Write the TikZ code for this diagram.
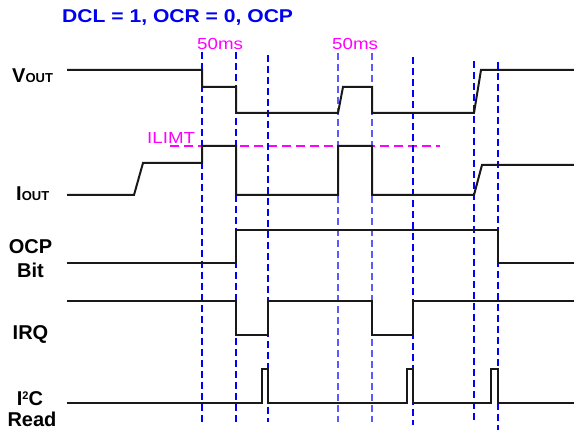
\documentclass[tikz,border=0pt]{standalone}
\usepackage{fontspec}
\setmainfont{Liberation Sans}
\definecolor{magtxt}{RGB}{255,0,255}
\definecolor{ttlblue}{RGB}{0,0,240}
\definecolor{lightblue}{RGB}{90,90,255}
\begin{document}
\begin{tikzpicture}[x=1pt,y=-1pt,
  sig/.style={black!90,line width=2pt,line join=miter},
  mark line/.style={blue,line width=1.2pt,dash pattern=on 7pt off 4pt},
  mark light/.style={lightblue,line width=1.8pt,dash pattern=on 7pt off 4pt},
  lbl/.style={font=\fontsize{20}{24}\selectfont\bfseries,inner sep=0pt},
  mtxt/.style={text=magtxt,font=\fontsize{16}{18}\selectfont,inner sep=0pt},
]
\useasboundingbox (0,0) rectangle (574,430);
% title
\node[anchor=base west,inner sep=0pt,text=ttlblue,font=\fontsize{18.5}{20}\selectfont\bfseries] (title) at (62,22.5) {\scalebox{1.14}[1]{DCL = 1, OCR = 0, OCP}};
% magenta labels
\node[mtxt,anchor=base west] (t1) at (197,50) {\scalebox{1.17}[1]{50ms}};
\node[mtxt,anchor=base west] (t2) at (332,50) {\scalebox{1.17}[1]{50ms}};
\node[mtxt,anchor=base west] (ilim) at (147,144) {\scalebox{1.17}[1]{ILIMT}};
\draw[draw=magtxt,line width=1.4pt,dash pattern=on 9pt off 5pt] (170,146) -- (440,146);
% dashed markers
\draw[mark line] (202,52) -- (202,422);
\draw[mark line] (236,52) -- (236,422);
\draw[mark line] (268,55) -- (268,422);
\draw[mark light] (338,53) -- (338,422);
\draw[mark light] (372,53) -- (372,422);
\draw[mark line] (413,57) -- (413,425);
\draw[mark line] (474,61) -- (474,422);
\draw[mark line] (498,62) -- (498,430);
% signal labels
\node[lbl,anchor=base west] (vout) at (12,83) {V\fontsize{13}{13}\selectfont OUT};
\node[lbl,anchor=base west] (iout) at (16,201) {I\fontsize{13}{13}\selectfont OUT};
\node[lbl,anchor=base] (ocp1) at (30.5,254) {OCP};
\node[lbl,anchor=base] (ocp2) at (30.5,278) {Bit};
\node[lbl,anchor=base] (irq) at (30.5,340) {IRQ};
\node[lbl,anchor=base] (i2c) at (30,406) {I\raisebox{6pt}{\fontsize{11}{11}\selectfont 2}C};
\node[lbl,anchor=base] (read) at (32,427) {Read};
% signals
\draw[sig] (67,70) -- (202,70) -- (202,87) -- (236,87) -- (236,113) -- (338,113) -- (343,87) -- (372,87) -- (372,113) -- (474,113) -- (481,70) -- (574,70);
\draw[sig] (67,195) -- (134,195) -- (143,163) -- (202,163) -- (202,146) -- (236,146) -- (236,195) -- (338,195) -- (338,146) -- (372,146) -- (372,195) -- (474,195) -- (482,165) -- (574,165);
\draw[sig] (67,263) -- (236,263) -- (236,230) -- (498,230) -- (498,263) -- (574,263);
\draw[sig] (67,301) -- (236,301) -- (236,335) -- (268,335) -- (268,301) -- (372,301) -- (372,335) -- (413,335) -- (413,301) -- (574,301);
\draw[sig] (67,403) -- (262,403) -- (262,369) -- (268,369) -- (268,403) -- (407,403) -- (407,369) -- (413,369) -- (413,403) -- (491,403) -- (491,369) -- (498,369) -- (498,403) -- (574,403);
\end{tikzpicture}
\end{document}
